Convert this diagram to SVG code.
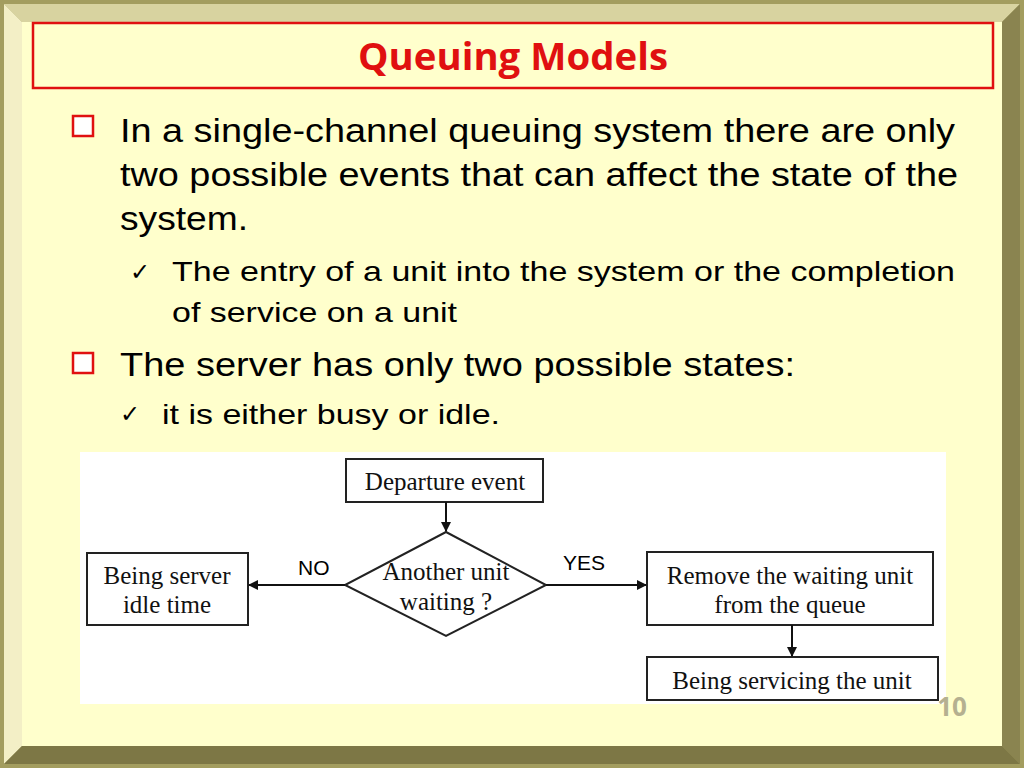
<svg xmlns="http://www.w3.org/2000/svg" width="1024" height="768" viewBox="0 0 1024 768">
<style>
.b{font-family:"Liberation Sans",Arial,sans-serif;fill:#000}
.s{font-family:"Liberation Serif","Times New Roman",serif;font-size:25px;fill:#111;text-anchor:middle}
.n{fill:#fff;stroke:#222;stroke-width:2}
.c{stroke:#111;stroke-width:2;fill:none;marker-end:url(#a)}
</style>
<defs><marker id="a" viewBox="0 0 10 10" refX="9" refY="5" markerWidth="5" markerHeight="5" orient="auto"><path d="M0,0L10,5L0,10z" fill="#111"/></marker></defs>
<rect width="1024" height="768" fill="#a39d5f"/>
<polygon points="4,4 1020,4 1002,22 22,22" fill="#d8d3a0"/>
<polygon points="4,4 22,22 22,746 4,764" fill="#f3efc6"/>
<polygon points="1020,4 1020,764 1002,746 1002,22" fill="#8a8450"/>
<polygon points="4,764 22,746 1002,746 1020,764" fill="#7d7745"/>
<rect x="22" y="22" width="980" height="724" fill="#ffffcc"/>
<rect x="33" y="23" width="960" height="65" fill="none" stroke="#e01010" stroke-width="2.5"/>
<text x="513" y="70" text-anchor="middle" font-family="'Open Sans',sans-serif" font-weight="bold" font-size="37" fill="#e01010" textLength="310" lengthAdjust="spacingAndGlyphs">Queuing Models</text>
<g fill="#fff" stroke="#e01010" stroke-width="2.5"><rect x="73" y="116" width="20" height="20"/><rect x="73" y="353" width="20" height="20"/></g>
<text class="b" font-size="34">
<tspan x="120" y="142" textLength="835" lengthAdjust="spacingAndGlyphs">In a single-channel queuing system there are only</tspan>
<tspan x="120" y="186" textLength="838" lengthAdjust="spacingAndGlyphs">two possible events that can affect the state of the</tspan>
<tspan x="120" y="230" textLength="128" lengthAdjust="spacingAndGlyphs">system.</tspan>
<tspan x="120" y="376" textLength="675" lengthAdjust="spacingAndGlyphs">The server has only two possible states:</tspan></text>
<text class="b" font-size="28">
<tspan x="172" y="281" textLength="783" lengthAdjust="spacingAndGlyphs">The entry of a unit into the system or the completion</tspan>
<tspan x="172" y="322" textLength="285" lengthAdjust="spacingAndGlyphs">of service on a unit</tspan>
<tspan x="162" y="424" textLength="338" lengthAdjust="spacingAndGlyphs">it is either busy or idle.</tspan></text>
<g font-family="'DejaVu Sans',sans-serif" font-size="24" font-weight="bold"><text x="130" y="280">✓</text><text x="120" y="422">✓</text></g>
<rect x="80" y="452" width="866" height="252" fill="#fff"/>
<g id="departure"><rect class="n" x="346" y="459" width="197" height="43"/><text class="s" x="445" y="490">Departure event</text></g>
<g id="decision"><polygon class="n" points="446,532 546,585 446,636 345,585"/><text class="s" x="446" y="580">Another unit</text><text class="s" x="446" y="610">waiting ?</text></g>
<g id="idle"><rect class="n" x="87" y="553" width="161" height="72"/><text class="s" x="167" y="584">Being server</text><text class="s" x="167" y="613">idle time</text></g>
<g id="remove"><rect class="n" x="647" y="552" width="286" height="73"/><text class="s" x="790" y="584">Remove the waiting unit</text><text class="s" x="790" y="613">from the queue</text></g>
<g id="servicing"><rect class="n" x="647" y="657" width="291" height="43"/><text class="s" x="792" y="689">Being servicing the unit</text></g>
<g id="connectors">
<path class="c" d="M446,502V531"/>
<path class="c" d="M345,585H249"/>
<path class="c" d="M546,585H646"/>
<path class="c" d="M792,625V656"/>
<text class="b" font-size="21" x="298" y="575">NO</text>
<text class="b" font-size="21" x="563" y="570">YES</text>
</g>
<text x="952" y="716" text-anchor="middle" font-family="'Open Sans',sans-serif" font-weight="bold" font-size="26" fill="#b5b090">10</text>
</svg>
